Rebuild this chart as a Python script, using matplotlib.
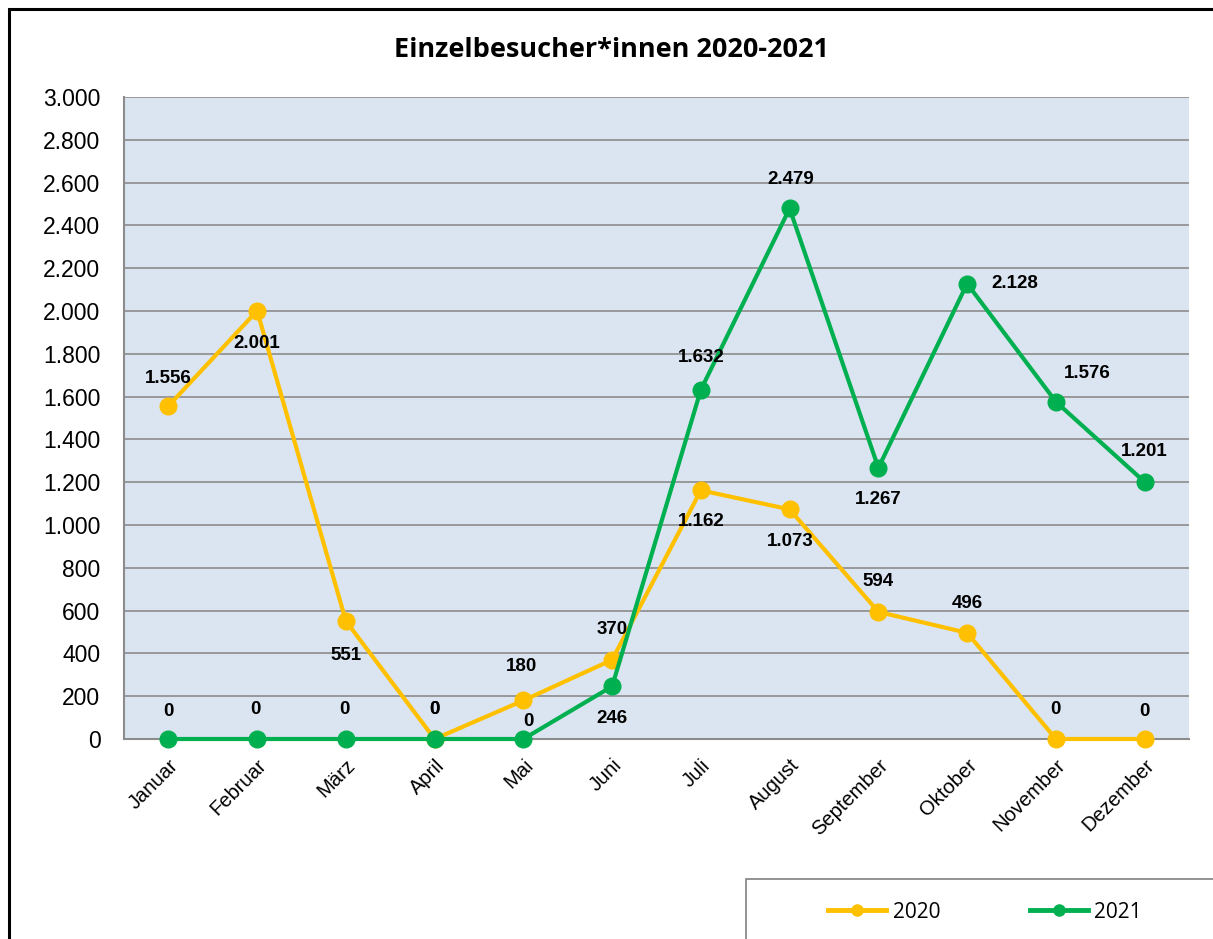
import matplotlib
matplotlib.use("Agg")
import matplotlib.pyplot as plt
from matplotlib.patches import Rectangle
from matplotlib.lines import Line2D

months = ["Januar", "Februar", "März", "April", "Mai", "Juni", "Juli",
          "August", "September", "Oktober", "November", "Dezember"]
v2020 = [1556, 2001, 551, 0, 180, 370, 1162, 1073, 594, 496, 0, 0]
v2021 = [0, 0, 0, 0, 0, 246, 1632, 2479, 1267, 2128, 1576, 1201]
yticks = list(range(0, 3001, 200))

# label offsets in pixels (dx, dy) relative to the point
off2020 = [(0, 28), (0, -33), (0, -34), (0, 29), (-2, 34), (0, 30),
           (0, -31), (1, -32), (0, 30), (0, 29), (0, 29), (0, 27)]
off2021 = [(0, 27), (-2, 29), (-1, 29), (0, 29), (5, 17), (0, -32),
           (0, 32), (1, 29), (0, -32), (48, 0), (31, 28), (0, 30)]

W, H = 1213, 939
fig = plt.figure(figsize=(W / 100, H / 100), dpi=100)
fig.patch.set_facecolor("white")

# outer chart border
fig.patches.append(Rectangle((9 / W, -0.1), 1.2, 1 - 9 / H + 0.1,
                             transform=fig.transFigure, fill=False,
                             edgecolor="black", linewidth=2.2))

ax = fig.add_axes([124 / W, 1 - 739 / H, (1189 - 124) / W, (739 - 97) / H])
ax.set_facecolor("#DBE5F1")
x = list(range(len(months)))

ax.set_xlim(-0.5, len(months) - 0.5)
ax.set_ylim(0, 3000)
ax.set_yticks(yticks)
ax.set_yticklabels([f"{t:,}".replace(",", ".") for t in yticks],
                   fontsize=16.5, family="Liberation Sans")
ax.set_xticks(x)
ax.set_xticklabels(months, rotation=45, ha="right", rotation_mode="anchor",
                   fontsize=14.5, family="Liberation Sans")
ax.tick_params(axis="both", length=0)
ax.tick_params(axis="y", pad=17)
ax.tick_params(axis="x", pad=12)
ax.grid(axis="y", color="#8C8C8C", linewidth=1.2)
ax.set_axisbelow(True)
for s in ["top", "right"]:
    ax.spines[s].set_visible(False)
for s in ["left", "bottom"]:
    ax.spines[s].set_color("#8C8C8C")
    ax.spines[s].set_linewidth(1.5)

c2020 = "#FFC000"
c2021 = "#00B050"
ax.plot(x, v2020, color=c2020, linewidth=3, marker="o", markersize=12,
        clip_on=False, zorder=3)
ax.plot(x, v2021, color=c2021, linewidth=3, marker="o", markersize=12,
        clip_on=False, zorder=4)

def fmt(v):
    return f"{v:,}".replace(",", ".")

for xs, vals, offs in [(x, v2020, off2020), (x, v2021, off2021)]:
    for xi, v, (dx, dy) in zip(xs, vals, offs):
        ax.annotate(fmt(v), (xi, v), xytext=(dx * 0.72, dy * 0.72),
                    textcoords="offset points", ha="center", va="center",
                    fontsize=13.5, fontweight="bold", family="Liberation Sans",
                    zorder=5)

fig.text(611 / W, 1 - 50 / H, "Einzelbesucher*innen 2020-2021",
         ha="center", va="center", fontsize=19.5, fontweight="bold",
         family="Open Sans")

# legend box
fig.patches.append(Rectangle((746 / W, -0.1), 1.0, 0.1 + (939 - 879) / H,
                             transform=fig.transFigure, fill=False,
                             edgecolor="#808080", linewidth=1.2))
handles = [Line2D([], [], color=c2020, linewidth=3.5, marker="o", markersize=8),
           Line2D([], [], color=c2021, linewidth=3.5, marker="o", markersize=8)]
fig.legend(handles, ["2020", "2021"], loc="center",
           bbox_to_anchor=(985 / W, 1 - 912 / H), ncol=2, frameon=False,
           handlelength=2.8, columnspacing=4.3,
           handletextpad=0.3, prop={"family": "Open Sans", "size": 15})

fig.savefig("out.png", dpi=100)
